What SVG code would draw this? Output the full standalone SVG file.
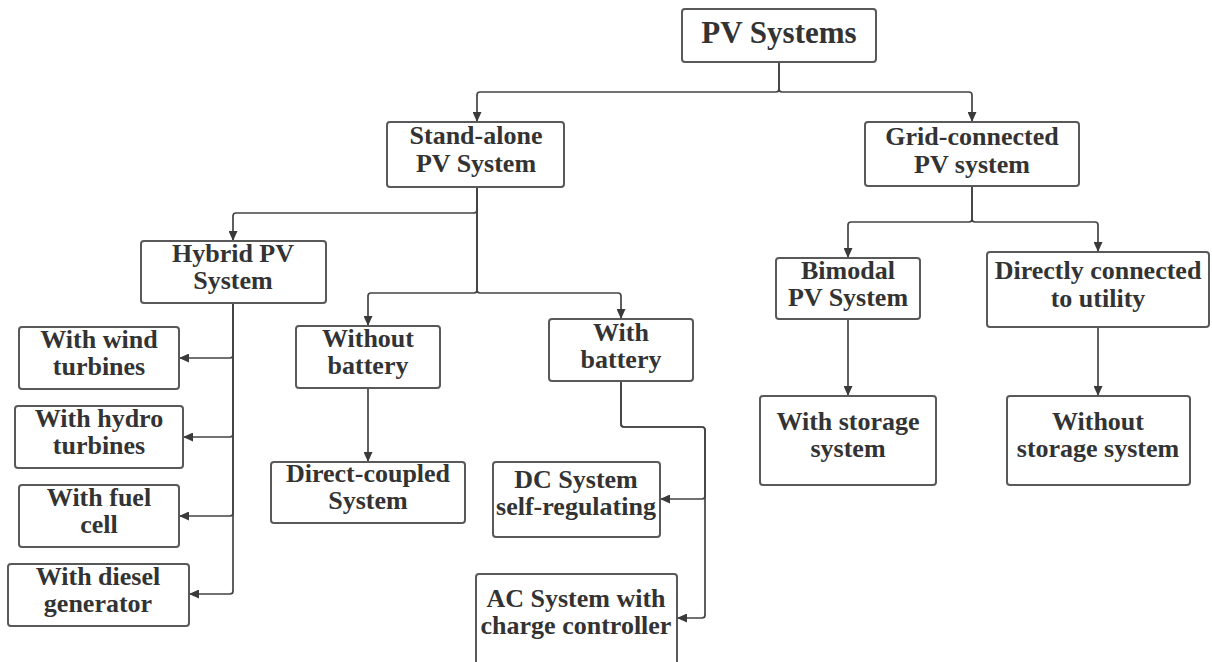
<svg xmlns="http://www.w3.org/2000/svg" width="1212" height="662" viewBox="0 0 1212 662">
  <defs>
    <marker id="arrow" markerUnits="userSpaceOnUse" markerWidth="10" markerHeight="9" refX="10" refY="4.5" orient="auto">
      <path d="M0,0 L10,4.5 L0,9 z" fill="#3a3a3a"/>
    </marker>
    <style>
      .box { fill: #ffffff; stroke: #595959; stroke-width: 2; }
      .lbl { font-family: "Liberation Serif", "Times New Roman", serif; font-weight: bold; font-size: 26px; fill: #333333; text-anchor: middle; }
      .title { font-size: 31px; }
      .edge { fill: none; stroke: #444444; stroke-width: 1.7; marker-end: url(#arrow); }
    </style>
  </defs>
  <rect width="1212" height="662" fill="#ffffff"/>

  <g id="connectors">
    <path class="edge" d="M779 62 V89 Q779 92 776 92 H480 Q477 92 477 95 V122"/>
    <path class="edge" d="M779 62 V89 Q779 92 782 92 H969 Q972 92 972 95 V122"/>
    <path class="edge" d="M477 187 V210 Q477 213 474 213 H236 Q233 213 233 216 V241"/>
    <path class="edge" d="M477 187 V290 Q477 293 474 293 H371 Q368 293 368 296 V326"/>
    <path class="edge" d="M477 187 V290 Q477 293 480 293 H618 Q621 293 621 296 V319"/>
    <path class="edge" d="M368 388 V462"/>
    <path class="edge" d="M621 381 V424 Q621 427 624 427 H702 Q705 427 705 430 V496 Q705 499 702 499 H660"/>
    <path class="edge" d="M621 381 V424 Q621 427 624 427 H702 Q705 427 705 430 V615 Q705 618 702 618 H677"/>
    <path class="edge" d="M233 303 V355 Q233 358 230 358 H179"/>
    <path class="edge" d="M233 303 V434 Q233 437 230 437 H183"/>
    <path class="edge" d="M233 303 V513 Q233 516 230 516 H179"/>
    <path class="edge" d="M233 303 V591 Q233 594 230 594 H189"/>
    <path class="edge" d="M972 186 V219 Q972 222 969 222 H851 Q848 222 848 225 V258"/>
    <path class="edge" d="M972 186 V219 Q972 222 975 222 H1095 Q1098 222 1098 225 V252"/>
    <path class="edge" d="M848 319 V396"/>
    <path class="edge" d="M1098 327 V396"/>
  </g>

  <g id="pv-systems">
    <rect class="box" x="682" y="9" width="194" height="53" rx="3"/>
    <text class="lbl title" x="779" y="43">PV Systems</text>
  </g>
  <g id="stand-alone">
    <rect class="box" x="387" y="122" width="177" height="65" rx="3"/>
    <text class="lbl" x="476" y="144">Stand-alone</text>
    <text class="lbl" x="476" y="172">PV System</text>
  </g>
  <g id="grid-connected">
    <rect class="box" x="865" y="122" width="214" height="64" rx="3"/>
    <text class="lbl" x="972" y="145">Grid-connected</text>
    <text class="lbl" x="972" y="173">PV system</text>
  </g>
  <g id="hybrid">
    <rect class="box" x="141" y="241" width="185" height="62" rx="3"/>
    <text class="lbl" x="233" y="262">Hybrid PV</text>
    <text class="lbl" x="233" y="289">System</text>
  </g>
  <g id="wind">
    <rect class="box" x="19" y="327" width="160" height="62" rx="3"/>
    <text class="lbl" x="99" y="348">With wind</text>
    <text class="lbl" x="99" y="375">turbines</text>
  </g>
  <g id="hydro">
    <rect class="box" x="15" y="406" width="168" height="62" rx="3"/>
    <text class="lbl" x="99" y="427">With hydro</text>
    <text class="lbl" x="99" y="454">turbines</text>
  </g>
  <g id="fuel-cell">
    <rect class="box" x="19" y="485" width="160" height="62" rx="3"/>
    <text class="lbl" x="99" y="506">With fuel</text>
    <text class="lbl" x="99" y="533">cell</text>
  </g>
  <g id="diesel">
    <rect class="box" x="8" y="564" width="181" height="62" rx="3"/>
    <text class="lbl" x="98" y="585">With diesel</text>
    <text class="lbl" x="98" y="612">generator</text>
  </g>
  <g id="without-battery">
    <rect class="box" x="296" y="326" width="144" height="62" rx="3"/>
    <text class="lbl" x="368" y="347">Without</text>
    <text class="lbl" x="368" y="374">battery</text>
  </g>
  <g id="with-battery">
    <rect class="box" x="549" y="319" width="144" height="62" rx="3"/>
    <text class="lbl" x="621" y="341">With</text>
    <text class="lbl" x="621" y="368">battery</text>
  </g>
  <g id="direct-coupled">
    <rect class="box" x="271" y="462" width="194" height="61" rx="3"/>
    <text class="lbl" x="368" y="482">Direct-coupled</text>
    <text class="lbl" x="368" y="509">System</text>
  </g>
  <g id="dc-system">
    <rect class="box" x="493" y="462" width="167" height="75" rx="3"/>
    <text class="lbl" x="576" y="488">DC System</text>
    <text class="lbl" x="576" y="515">self-regulating</text>
  </g>
  <g id="ac-system">
    <rect class="box" x="476" y="574" width="201" height="96" rx="3"/>
    <text class="lbl" x="576" y="607">AC System with</text>
    <text class="lbl" x="576" y="634">charge controller</text>
  </g>
  <g id="bimodal">
    <rect class="box" x="776" y="258" width="144" height="61" rx="3"/>
    <text class="lbl" x="848" y="279">Bimodal</text>
    <text class="lbl" x="848" y="306">PV System</text>
  </g>
  <g id="directly-connected">
    <rect class="box" x="987" y="252" width="222" height="75" rx="3"/>
    <text class="lbl" x="1098" y="279">Directly connected</text>
    <text class="lbl" x="1098" y="307">to utility</text>
  </g>
  <g id="with-storage">
    <rect class="box" x="760" y="396" width="176" height="89" rx="3"/>
    <text class="lbl" x="848" y="430">With storage</text>
    <text class="lbl" x="848" y="457">system</text>
  </g>
  <g id="without-storage">
    <rect class="box" x="1007" y="396" width="183" height="89" rx="3"/>
    <text class="lbl" x="1098" y="430">Without</text>
    <text class="lbl" x="1098" y="457">storage system</text>
  </g>
</svg>
